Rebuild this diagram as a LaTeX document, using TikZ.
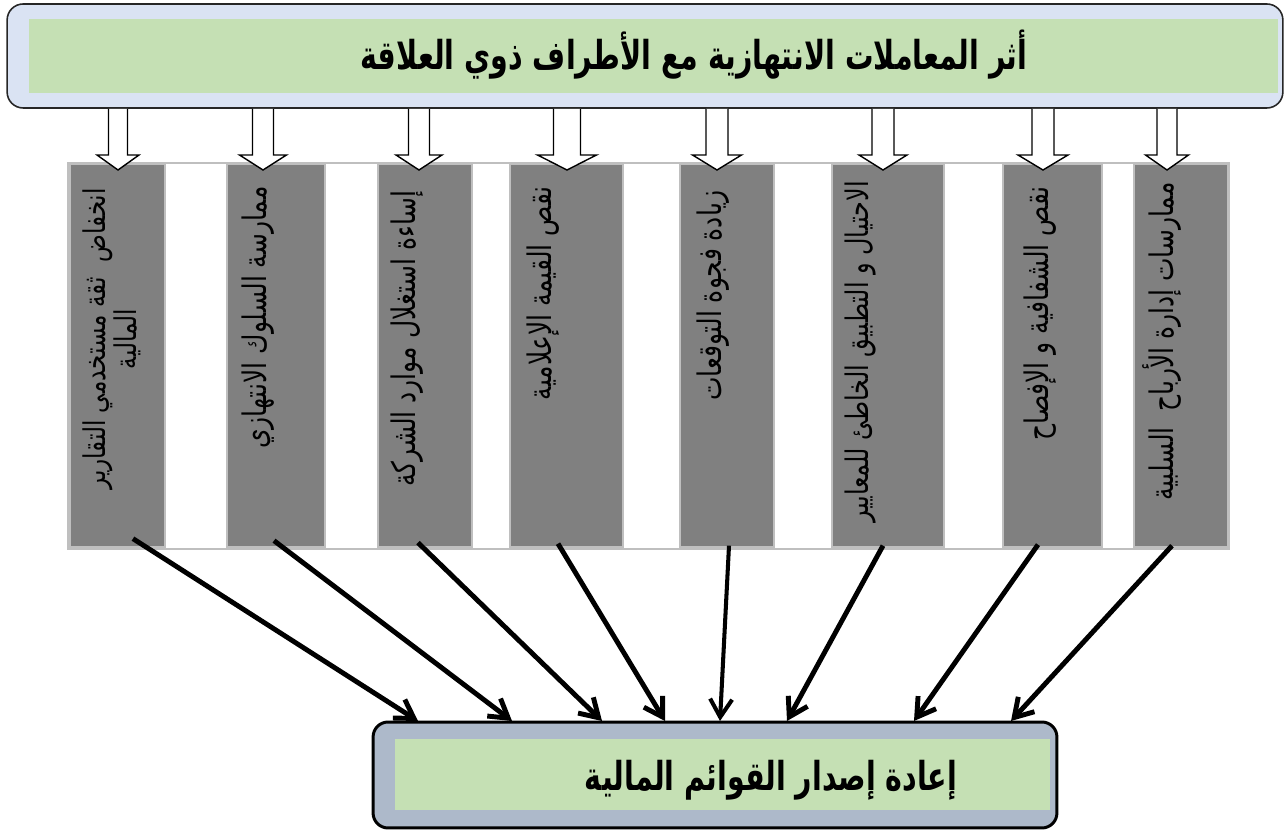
\documentclass[tikz,border=0pt]{standalone}
\usepackage{fontspec}
\usepackage{graphicx}
\usetikzlibrary{positioning,arrows.meta,calc}
\newfontfamily\arabicfont[Script=Arabic]{DejaVu Sans}
\TeXXeTstate=1
\definecolor{paleblue}{HTML}{DAE3F3}
\definecolor{palegreen}{HTML}{C5E0B4}
\definecolor{slateblue}{HTML}{ADB9CA}
\definecolor{colgray}{HTML}{808080}
\definecolor{rulegray}{HTML}{BFBFBF}

% one right-to-left line, a little taller than the font draws it
\newcommand{\arline}[2][1.3]{\scalebox{1}[#1]{\beginR #2\endR}}

% hollow block arrow from the top box down to a tip: #1 tip, #2 half shaft, #3 half head
\newcommand{\blockarrow}[3]{%
  \draw[hollow] ($(top.south -| #1)+(-#2,0)$) -- ($(#1)+(-#2,-15)$) -- ($(#1)+(-#3,-15)$) -- (#1)
    -- ($(#1)+(#3,-15)$) -- ($(#1)+(#2,-15)$) -- ($(top.south -| #1)+(#2,0)$);}

\begin{document}
\begin{tikzpicture}[x=0.02cm, y=-0.02cm,
  col/.style={rectangle, draw=rulegray, line width=0.8pt, fill=colgray, inner sep=0pt, minimum height=7.66cm},
  lbl/.style={rotate=90, anchor=east, inner sep=0pt, align=center, font=\arabicfont\fontsize{14.2}{19}\selectfont},
  heading/.style={font=\arabicfont\bfseries\fontsize{16.2}{20}\selectfont},
  hollow/.style={draw=black, line width=0.8pt, fill=white},
  link/.style={line width=2.8pt, -{Straight Barb[length=0.36cm, width=0.44cm]}}]
\useasboundingbox (0,0) rectangle (1284,830);

\node[rectangle, draw=black!85, line width=0.9pt, rounded corners=0.32cm, fill=paleblue, minimum width=25.52cm, minimum height=2.08cm] (top) at (645,56) {};
\node[rectangle, fill=palegreen, minimum width=24.98cm, minimum height=1.48cm] (topfill) at (653.5,56) {};
\node[heading] (title) at (694,55) {\arline[1.4]{أثر المعاملات الانتهازية مع الأطراف ذوي العلاقة}};

\node[rectangle, draw=rulegray, line width=1.2pt, fill=white, minimum width=23.22cm, minimum height=7.72cm] (band) at (648.5,356) {};
\node[col, minimum width=1.9cm] (c1) at (117.5,355.5) {};
\node[col, minimum width=1.96cm] (c2) at (276,355.5) {};
\node[col, minimum width=1.88cm] (c3) at (425,355.5) {};
\node[col, minimum width=2.26cm] (c4) at (566.5,355.5) {};
\node[col, minimum width=1.88cm] (c5) at (727,355.5) {};
\node[col, minimum width=2.24cm] (c6) at (888,355.5) {};
\node[col, minimum width=1.98cm] (c7) at (1052.5,355.5) {};
\node[col, minimum width=1.88cm] (c8) at (1181,355.5) {};

\node[lbl, font=\arabicfont\fontsize{13.1}{18}\selectfont] (l1) at (112,188) {\arline{انخفاض~ ثقة مستخدمي التقارير}\\\arline{المالية}};
\node[lbl] (l2) at (258,186) {\arline{ممارسة السلوك الانتهازي}};
\node[lbl] (l3) at (407,190) {\arline{إساءة استغلال موارد الشركة}};
\node[lbl] (l4) at (543,186) {\arline{نقص القيمة الإعلامية}};
\node[lbl] (l5) at (713,190) {\arline{زيادة فجوة التوقعات}};
\node[lbl, font=\arabicfont\fontsize{13.6}{18}\selectfont] (l6) at (860,181) {\arline{الاحتيال و التطبيق الخاطئ للمعايير}};
\node[lbl] (l7) at (1040,186) {\arline{نقص الشفافية و الإفصاح}};
\node[lbl] (l8) at (1162,182) {\arline{ممارسات إدارة الأرباح~ السلبية}};

\coordinate (t1) at (118,170);
\coordinate (t2) at (263,170);
\coordinate (t3) at (419,170);
\coordinate (t4) at (567,170);
\coordinate (t5) at (717,170);
\coordinate (t6) at (883,170);
\coordinate (t7) at (1043,170);
\coordinate (t8) at (1167,170);
\blockarrow{t1}{9.5}{21}
\blockarrow{t2}{10.5}{23.5}
\blockarrow{t3}{10.5}{23}
\blockarrow{t4}{13.5}{29.5}
\blockarrow{t5}{11}{24.5}
\blockarrow{t6}{11}{24}
\blockarrow{t7}{11}{25}
\blockarrow{t8}{10}{21.5}

\node[rectangle, draw=black, line width=1.7pt, rounded corners=0.3cm, fill=slateblue, minimum width=13.68cm, minimum height=2.12cm] (res) at (715,775) {};
\node[rectangle, fill=palegreen, minimum width=13.1cm, minimum height=1.42cm] (resfill) at (722.5,774.5) {};
\node[heading] (restext) at (771,780) {\arline[1.4]{إعادة إصدار القوائم المالية}};

\coordinate (e1) at (418,721);
\coordinate (e2) at (512,721);
\coordinate (e3) at (602,721);
\coordinate (e4) at (665,721);
\coordinate (e5) at (720,721);
\coordinate (e6) at (787,721);
\coordinate (e7) at (914,721);
\coordinate (e8) at (1011,721);
\draw[link] ($(c1.south)+(15.5,-9)$) -- (e1);
\draw[link] ($(c2.south)+(-2,-7)$) -- (e2);
\draw[link] ($(c3.south)+(-7,-5)$) -- (e3);
\draw[link] ($(c4.south)+(-8.5,-4)$) -- (e4);
\draw[link, line width=2.3pt] ($(c5.south)+(2,-2)$) -- (e5);
\draw[link] ($(c6.south)+(-5,-2)$) -- (e6);
\draw[link] ($(c7.south)+(-14.5,-3)$) -- (e7);
\draw[link] ($(c8.south)+(-9,-2)$) -- (e8);
\end{tikzpicture}
\end{document}
